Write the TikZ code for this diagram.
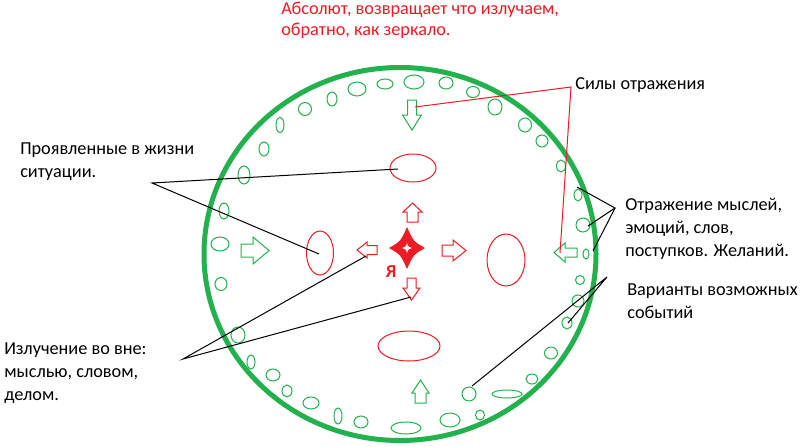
\documentclass[tikz,border=0pt]{standalone}
\usepackage{fontspec}
\setmainfont{Carlito}
\usetikzlibrary{shapes.geometric}
\definecolor{pgreen}{HTML}{22B14C}
\definecolor{pred}{HTML}{ED1C24}
\newcommand{\blkarrow}[9]{%
 \begin{scope}[shift={(#2,#3)},rotate=#4]
  \draw[#9, line width=0.75pt, line join=miter] (-#5/2,-#7) -- ({#5/2-#6},-#7) -- ({#5/2-#6},-#8) -- (#5/2,0) -- ({#5/2-#6},#8) -- ({#5/2-#6},#7) -- (-#5/2,#7) -- cycle;
  \coordinate (#1) at (0,0);
 \end{scope}}
\begin{document}
\begin{tikzpicture}[x=0.75pt,y=-0.75pt,
  lbl/.style={font=\fontsize{13.7pt}{17pt}\selectfont, align=left, inner sep=0pt, anchor=base west, text=black},
  conn/.style={black, line width=0.75pt},
  redell/.style={ellipse, draw=pred, line width=0.75pt, inner sep=0pt}]
\useasboundingbox (0,0) rectangle (802,446);
\fill[white] (0,0) rectangle (802,446);
% big circle
\draw[pgreen, line width=3.75pt] (400,254) ellipse [x radius=196, y radius=186.5];
% ring of small ellipses
\foreach \x/\y/\a/\b in {280/125/4/7.5, 264/149/5/7, 244/175/6/9, 224/211/5/8, 220/244/9/7,
  221/284/6/6.5, 238/335/7/8, 251/362/4/7, 273/375/7/6, 287/391/5/6, 311/403/8/6, 338/416/4/8,
  361/422/7/6, 406/428/15/6, 450/420/10/7, 480/415/4.5/5, 469/394/7/7, 507/394/15/4, 532/379/6/5,
  551/353/6.5/6, 567/323/5/6, 578/301/6/6, 580/280/4.5/4.5, 586/254/3/5, 583/225/7/7, 578/195/4/6,
  561/166/4.5/6, 542/141/6/6, 525/125/6.5/7, 495/107/7/8, 473/92/6.5/5.5, 446/83/7/6, 414/82/10/7,
  385/84/8/5, 357/89/9/7, 332/99/5/7, 305/109/6.5/6.5}
  \draw[pgreen, line width=0.75pt] (\x,\y) ellipse [x radius=\a, y radius=\b];
% red ellipses
\node[redell, minimum width=46*0.75pt, minimum height=28*0.75pt] (ellT) at (413,168) {};
\node[redell, minimum width=27*0.75pt, minimum height=44*0.75pt] (ellL) at (320,253) {};
\node[redell, minimum width=38*0.75pt, minimum height=52*0.75pt] (ellR) at (506,260) {};
\node[redell, minimum width=62*0.75pt, minimum height=30*0.75pt] (ellB) at (409,346) {};
% green arrows
\blkarrow{gaT}{412}{115}{-90}{30}{15}{4.5}{9.5}{pgreen}
\blkarrow{gaL}{255}{250.5}{0}{28}{16}{6.5}{13.5}{pgreen}
\blkarrow{gaR}{565.5}{252.5}{180}{23}{11}{4.5}{9.5}{pgreen}
\blkarrow{gaB}{420.5}{391.5}{90}{23}{13}{5.5}{8.5}{pgreen}
% red arrows
\blkarrow{raU}{412.5}{212.5}{90}{19}{9}{5.5}{9.5}{pred}
\blkarrow{raL}{367}{250}{180}{20}{10}{4.5}{8}{pred}
\blkarrow{raR}{454}{250.5}{0}{24}{13}{5.5}{10.5}{pred}
\blkarrow{raD}{411.5}{289}{-90}{22}{12}{4.5}{8.5}{pred}
% star
\begin{scope}[shift={(407,248)}]
  \fill[pred] (0,-21) .. controls (6.5,-6.5) .. (18,0) .. controls (6.5,6.5) .. (0,21)
     .. controls (-6.5,6.5) .. (-18,0) .. controls (-6.5,-6.5) .. cycle;
  \fill[white] (0,-5) .. controls (1.2,-1.2) .. (5,0) .. controls (1.2,1.2) .. (0,5)
     .. controls (-1.2,1.2) .. (-5,0) .. controls (-1.2,-1.2) .. cycle;
  \coordinate (star) at (0,0);
\end{scope}
\node[font=\fontsize{13.7pt}{15pt}\selectfont\bfseries, text=pred, inner sep=0pt] (ya) at (391,272) {Я};
% texts (anchor = baseline of last line)
\node[lbl, text=pred, font=\fontsize{13.7pt}{16.5pt}\selectfont] (absolut) at (281,36) {Абсолют, возвращает что излучаем,\\обратно, как зеркало.};
\node[lbl] (sily) at (575,89) {Силы отражения};
\node[lbl] (proyav) at (20,177) {Проявленные в жизни\\ситуации.};
\node[lbl] (izluch) at (4,400) {Излучение во вне:\\мыслью, словом,\\делом.};
\node[lbl] (otraz) at (625,256) {Отражение мыслей,\\эмоций, слов,\\поступков. Желаний.};
\node[lbl] (variant) at (627,318) {Варианты возможных\\событий};
% connector coordinates
\coordinate (pvS) at (152,183);
\coordinate (pvA) at (398,169);
\coordinate (pvB) at (319,254);
\coordinate (izS) at (183,359);
\coordinate (izA) at (366,256);
\coordinate (izB) at (411,297);
\coordinate (otS) at (615,208);
\coordinate (otA) at (577,187);
\coordinate (otB) at (588,226);
\coordinate (otC) at (593,251);
\coordinate (vaS) at (607,277);
\coordinate (vaA) at (568,323);
\coordinate (vaB) at (472,386);
\coordinate (syC) at (571,87);
\coordinate (syA) at (415,107);
\coordinate (syB) at (560,253);
% connectors
\draw[conn] (pvA) -- (pvS) -- (pvB);
\draw[conn] (izA) -- (izS) -- (izB);
\draw[conn] (otA) -- (otS) -- (otB);
\draw[conn] (otS) -- (otC);
\draw[conn] (vaA) -- (vaS) -- (vaB);
\draw[pred, line width=0.75pt] (syA) -- (syC) -- (syB);
\end{tikzpicture}
\end{document}
